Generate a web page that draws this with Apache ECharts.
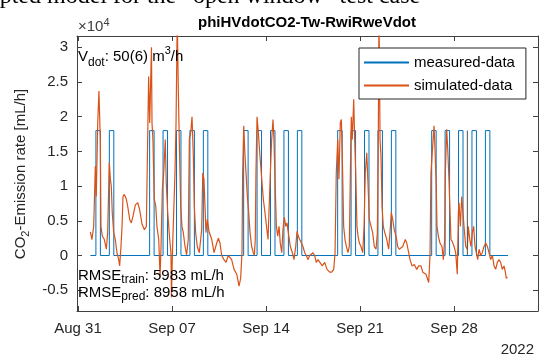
<!DOCTYPE html>
<html>
<head>
<meta charset="utf-8">
<script src="https://cdn.jsdelivr.net/npm/echarts@6/dist/echarts.min.js"></script>
<style>
  html, body { margin: 0; padding: 0; background: #fff; }
  #chart { width: 539px; height: 355px; }
</style>
</head>
<body>
<div id="chart"></div>
<script>
// x values are days since 2022-08-31 00:00, y values in units of 1e4 mL/h
const tickDays = [0, 7, 14, 21, 28]
const tickLabels = ['Aug 31', 'Sep 07', 'Sep 14', 'Sep 21', 'Sep 28']
const yTicks = [-0.5, 0, 0.5, 1, 1.5, 2, 2.5, 3]

// measured: weekday window-opening pulses
const pulseDays = [1, 2, 5, 6, 7, 8, 9, 12, 13, 14, 15, 16, 19, 20, 21, 22, 23, 26, 27, 28, 29, 30]
const pulseOnHour = 8
const pulseOffHour = 16
const pulseLevel = 1.8
const measStart = 0.92
const measEnd = 32.02
const splitDay = 28.99

const simDays = [
  0.92, 1.04, 1.17, 1.29, 1.36, 1.47, 1.56, 1.66, 1.71, 1.81, 1.96, 2.11, 2.21, 2.33, 2.41, 2.48, 2.55, 2.66, 2.78, 2.90,
  3.03, 3.10, 3.20, 3.28, 3.35, 3.45, 3.60, 3.70, 3.85, 3.97, 4.10, 4.27, 4.45, 4.59, 4.77, 4.94, 5.09, 5.19, 5.26, 5.34,
  5.47, 5.51, 5.58, 5.68, 5.79, 5.88, 6.01, 6.11, 6.18, 6.28, 6.38, 6.50, 6.57, 6.68, 6.83, 6.92, 6.96, 7.04, 7.22, 7.30,
  7.39, 7.47, 7.54, 7.65, 7.74, 7.84, 7.97, 8.09, 8.21, 8.29, 8.39, 8.49, 8.59, 8.66, 8.76, 8.88, 9.03, 9.14, 9.21, 9.29,
  9.38, 9.53, 9.63, 9.75, 9.96, 10.13, 10.33, 10.45, 10.57, 10.70, 10.87, 11.02, 11.19, 11.32, 11.44, 11.62, 11.82, 11.99, 12.11, 12.21,
  12.26, 12.34, 12.41, 12.51, 12.61, 12.71, 12.81, 12.93, 13.05, 13.13, 13.20, 13.25, 13.33, 13.43, 13.55, 13.68, 13.80, 13.92, 14.15, 14.22,
  14.32, 14.42, 14.52, 14.59, 14.67, 14.77, 14.87, 14.97, 15.06, 15.17, 15.26, 15.36, 15.47, 15.56, 15.66, 15.81, 15.96, 16.08, 16.21, 16.31,
  16.40, 16.51, 16.63, 16.75, 16.88, 17.00, 17.13, 17.25, 17.50, 17.62, 17.74, 17.87, 18.00, 18.19, 18.37, 18.54, 18.74, 18.89, 19.04, 19.14,
  19.23, 19.34, 19.43, 19.53, 19.61, 19.68, 19.78, 19.88, 19.98, 20.10, 20.20, 20.28, 20.35, 20.42, 20.53, 20.60, 20.68, 20.77, 20.85, 20.95,
  21.07, 21.20, 21.30, 21.39, 21.50, 21.59, 21.69, 21.82, 21.94, 22.06, 22.19, 22.29, 22.36, 22.41, 22.49, 22.56, 22.64, 22.73, 22.84, 22.99,
  23.13, 23.23, 23.33, 23.43, 23.55, 23.68, 23.80, 23.92, 24.18, 24.37, 24.48, 24.62, 24.72, 24.87, 25.04, 25.22, 25.37, 25.54, 25.67, 25.91,
  26.11, 26.21, 26.28, 26.41, 26.51, 26.58, 26.66, 26.73, 26.83, 26.95, 27.10, 27.20, 27.30, 27.35, 27.45, 27.53, 27.62, 27.70, 27.77, 27.87,
  28.00, 28.12, 28.24, 28.32, 28.37, 28.47, 28.57, 28.67, 28.74, 28.87, 28.99, 29.06, 29.17, 29.26, 29.36, 29.46, 29.56, 29.66, 29.76, 29.86,
  29.99, 30.10, 30.23, 30.36, 30.48, 30.60, 30.73, 30.85, 30.98, 31.10, 31.22, 31.35, 31.47, 31.59, 31.72, 31.82, 31.89, 31.97, 32.02
]
const simValues = [
  0.34, 0.23, 0.42, 1.29, 0.85, 1.91, 2.37, 1.67, 0.42, 0.28, 0.23, 0.09, 0.33, 1.34, 1.10, 1.00, 0.62, 0.33, 0.23, 0.04,
  -0.06, -0.15, 0.13, 0.42, 0.85, 0.88, 0.81, 0.71, 0.52, 0.47, 0.57, 0.73, 0.76, 0.66, 0.45, 0.37, 0.42, 0.42, 2.58, 1.91,
  3.00, 1.91, 1.67, 0.81, 0.71, 0.42, 0.23, -0.30, 0.10, 0.95, 1.19, 1.67, 1.05, 0.62, 0.23, 0.04, -0.60, 0.10, 1.19, 1.91,
  3.40, 2.39, 1.67, 0.71, 0.42, 0.33, 0.13, 0.01, 0.23, 1.67, 1.77, 2.00, 1.43, 0.71, 0.33, 0.13, 0.04, 0.04, 0.37, 1.19,
  1.10, 0.33, 0.52, 0.35, 0.23, 0.04, 0.18, 0.25, 0.18, 0.00, -0.06, -0.10, 0.00, 0.01, -0.06, -0.20, -0.27, -0.44, -0.33, 0.04,
  1.19, 1.87, 1.53, 1.19, 0.85, 0.62, 0.33, 0.13, 0.04, 0.00, 0.23, 1.19, 2.00, 1.77, 1.43, 1.10, 0.81, 0.62, 0.23, 0.23,
  1.19, 1.67, 1.96, 1.67, 1.10, 0.42, 0.28, 0.42, 0.18, 0.04, 0.37, 0.55, 0.42, 0.47, 0.33, 0.13, 0.04, -0.06, 0.13, 0.35,
  0.28, 0.23, 0.18, 0.13, 0.04, 0.00, -0.06, 0.00, 0.04, 0.00, -0.10, -0.06, -0.08, -0.15, -0.10, -0.20, -0.24, -0.24, -0.20, 0.04,
  1.19, 1.67, 1.10, 1.91, 1.96, 1.43, 0.42, 0.23, 0.13, 0.04, 0.13, 1.19, 2.00, 1.67, 2.25, 1.67, 1.19, 0.42, 0.28, 0.18,
  0.13, 0.04, 0.42, 1.19, 1.48, 1.05, 0.52, 0.42, 0.33, 0.13, 0.09, 0.33, 1.67, 3.50, 1.67, 1.43, 0.71, 0.42, 0.33, 0.23,
  0.09, 0.33, 0.62, 0.52, 0.37, 0.28, 0.13, 0.09, 0.13, 0.23, 0.18, 0.04, -0.06, -0.15, -0.13, -0.20, -0.15, -0.15, -0.24, -0.27,
  -0.39, 0.00, 1.19, 1.58, 1.87, 1.53, 1.10, 0.42, 0.28, 0.18, 0.13, -0.06, 0.23, 1.19, 1.82, 1.53, 1.10, 0.62, 0.23, 0.20,
  0.13, 0.04, -0.27, 0.62, 0.76, 0.42, 0.85, 0.85, 0.42, 0.13, 0.09, 0.42, 0.23, 0.13, 0.33, 0.42, 0.13, 0.04, -0.06, 0.09,
  0.00, 0.04, 0.13, 0.18, 0.13, 0.04, -0.06, 0.00, -0.15, -0.20, -0.10, -0.06, -0.10, -0.20, -0.15, -0.24, -0.33, -0.31, -0.33
]

const FONT = '"Liberation Sans", Arial, Helvetica, sans-serif'
const AXIS = '#404040'
const TXT = '#262626'

const measured = [[measStart, 0]]
pulseDays.forEach((d) => {
  const on = d + pulseOnHour / 24
  const off = d + pulseOffHour / 24
  measured.push([on, 0], [on, pulseLevel], [off, pulseLevel], [off, 0])
})
measured.push([measEnd, 0])

const simulated = simDays.map((d, i) => [d, simValues[i]])

const chart = echarts.init(document.getElementById('chart'), null, { renderer: 'canvas' })

const xRange = { min: -0.074, max: 34.25 }
const yRange = { min: -0.8, max: 3.163 }

const baseX = {
  type: 'value',
  ...xRange,
  axisLine: { show: true, onZero: false, lineStyle: { color: AXIS, width: 1 } },
  axisTick: { show: true, inside: true, length: 5, customValues: tickDays, lineStyle: { color: AXIS } },
  splitLine: { show: false },
}
const baseY = {
  type: 'value',
  ...yRange,
  axisLine: { show: true, onZero: false, lineStyle: { color: AXIS, width: 1 } },
  axisTick: { show: true, inside: true, length: 5, customValues: yTicks, lineStyle: { color: AXIS } },
  splitLine: { show: false },
}

chart.setOption({
  animation: false,
  textStyle: { fontFamily: FONT },
  grid: { left: 77, right: 1, top: 36, bottom: 44 },
  xAxis: [
    {
      ...baseX,
      position: 'bottom',
      axisLabel: {
        customValues: tickDays,
        color: TXT,
        fontSize: 15,
        fontFamily: FONT,
        margin: 10,
        formatter: (v) => tickLabels[tickDays.indexOf(Math.round(v))] ?? '',
      },
    },
    { ...baseX, position: 'top', axisLabel: { show: false } },
  ],
  yAxis: [
    {
      ...baseY,
      position: 'left',
      axisLabel: {
        customValues: yTicks,
        color: TXT,
        fontSize: 15,
        fontFamily: FONT,
        margin: 9,
        formatter: (v) => String(v),
      },
    },
    { ...baseY, position: 'right', axisLabel: { show: false } },
  ],
  legend: {
    data: ['measured-data', 'simulated-data'],
    orient: 'vertical',
    left: 359,
    top: 48,
    padding: [7, 11, 6, 5],
    itemGap: 8,
    itemWidth: 45,
    itemHeight: 2,
    icon: 'rect',
    backgroundColor: '#fff',
    borderColor: TXT,
    borderWidth: 1,
    borderRadius: 0,
    textStyle: { color: '#000', fontSize: 15, fontFamily: FONT },
  },
  series: [
    {
      name: 'measured-data',
      type: 'line',
      data: measured,
      showSymbol: false,
      lineStyle: { color: '#0072BD', width: 1 },
      itemStyle: { color: '#0072BD' },
      z: 2,
    },
    {
      name: 'simulated-data',
      type: 'line',
      data: simulated,
      showSymbol: false,
      lineStyle: { color: '#D95319', width: 1.2 },
      itemStyle: { color: '#D95319' },
      z: 3,
    },
    {
      name: 'split',
      type: 'line',
      data: [[splitDay, 0], [splitDay, pulseLevel]],
      showSymbol: false,
      silent: true,
      lineStyle: { color: '#505050', width: 1 },
      z: 4,
    },
  ],
  graphic: [
    {
      type: 'text',
      x: -11,
      y: -3,
      style: {
        text: 'apted model for the \u201copen window\u201d test case',
        font: '24px "Liberation Serif", "Times New Roman", serif',
        fill: '#000',
        verticalAlign: 'middle',
      },
    },
    {
      type: 'text',
      x: 307,
      y: 23,
      style: {
        text: 'phiHVdotCO2-Tw-RwiRweVdot',
        font: 'bold 15px ' + FONT,
        fill: '#000',
        align: 'center',
        verticalAlign: 'middle',
      },
    },
    {
      type: 'text',
      x: 78,
      y: 17,
      style: {
        text: '{n|\u00d710}{p|4}',
        rich: {
          n: { fontSize: 15, fontFamily: FONT, fill: AXIS, lineHeight: 20 },
          p: { fontSize: 11, fontFamily: FONT, fill: AXIS, lineHeight: 11, verticalAlign: 'top' },
        },
      },
    },
    {
      type: 'text',
      x: 78,
      y: 45,
      z: 10,
      style: {
        text: '{n|V}{s|dot}{n|: 50(6) m}{p|3}{n|/h}',
        rich: {
          n: { fontSize: 15, fontFamily: FONT, fill: '#000', lineHeight: 24 },
          s: { fontSize: 12, fontFamily: FONT, fill: '#000', lineHeight: 12, verticalAlign: 'bottom' },
          p: { fontSize: 11, fontFamily: FONT, fill: '#000', lineHeight: 11, verticalAlign: 'top' },
        },
      },
    },
    {
      type: 'text',
      x: 78,
      y: 266,
      z: 10,
      style: {
        text: '{n|RMSE}{s|train}{n|: 5983 mL/h}',
        rich: {
          n: { fontSize: 15, fontFamily: FONT, fill: '#000', lineHeight: 20 },
          s: { fontSize: 12, fontFamily: FONT, fill: '#000', lineHeight: 12, verticalAlign: 'bottom' },
        },
      },
    },
    {
      type: 'text',
      x: 78,
      y: 283,
      z: 10,
      style: {
        text: '{n|RMSE}{s|pred}{n|: 8958 mL/h}',
        rich: {
          n: { fontSize: 15, fontFamily: FONT, fill: '#000', lineHeight: 20 },
          s: { fontSize: 12, fontFamily: FONT, fill: '#000', lineHeight: 12, verticalAlign: 'bottom' },
        },
      },
    },
    {
      type: 'text',
      x: 21,
      y: 174,
      rotation: Math.PI / 2,
      style: {
        text: '{n|CO}{s|2}{n|-Emission rate [mL/h]}',
        align: 'center',
        verticalAlign: 'middle',
        rich: {
          n: { fontSize: 15, fontFamily: FONT, fill: TXT, lineHeight: 20 },
          s: { fontSize: 11, fontFamily: FONT, fill: TXT, lineHeight: 11, verticalAlign: 'bottom' },
        },
      },
    },
    {
      type: 'text',
      x: 534,
      y: 350,
      style: {
        text: '2022',
        font: '15px ' + FONT,
        fill: TXT,
        align: 'right',
        verticalAlign: 'middle',
      },
    },
  ],
})
</script>
</body>
</html>
